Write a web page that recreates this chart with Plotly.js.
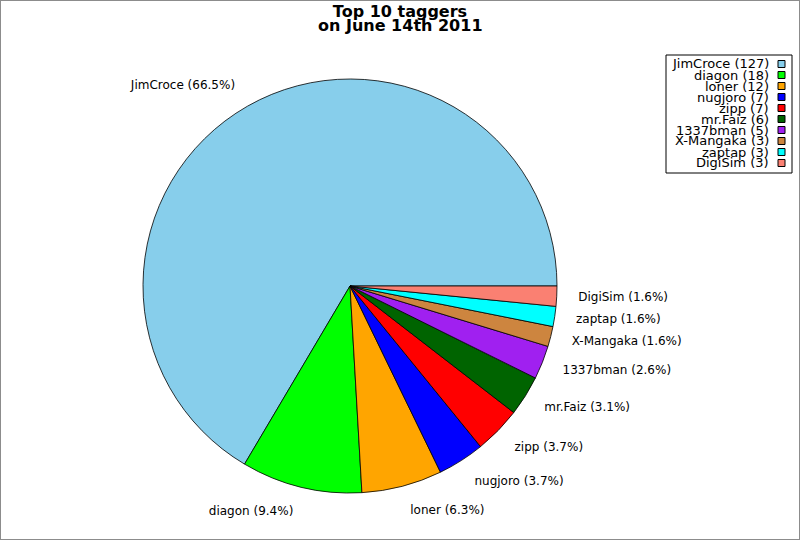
<!DOCTYPE html>
<html>
<head>
<meta charset="utf-8">
<script src="https://cdn.plot.ly/plotly-3.0.1.min.js"></script>
<style>
  html, body { margin: 0; padding: 0; background: #fff; }
  #pie { width: 798px; height: 538px; border: 1px solid #8c8c8c; }
</style>
</head>
<body>
<div id="pie"></div>
<script>
// top 10 taggers, in the order they are drawn
let taggers = ['JimCroce', 'diagon', 'loner', 'nugjoro', 'zipp', 'mr.Faiz', '1337bman', 'X-Mangaka', 'zaptap', 'DigiSim'];
let tagCounts = [127, 18, 12, 7, 7, 6, 5, 3, 3, 3];
let sliceColors = ['#87ceeb', '#00ff00', '#ffa500', '#0000ff', '#ff0000', '#006400', '#a020f0', '#cd853f', '#00ffff', '#fa8072'];

let W = 798, H = 538;
// image pixel -> paper coords
function px(x) { return (x - 1) / W; }
function py(y) { return 1 - (y - 1) / H; }

let total = tagCounts.reduce(function (a, b) { return a + b; }, 0);
// plotly puts the end of the first slice at `rotation` when going counterclockwise,
// so shift it back so that the first slice starts at 3 o'clock
let startRotation = 90 - 360 * tagCounts[0] / total;

let cx = 350, cy = 286, R = 207, labelGap = 18;

let pie = {
  type: 'pie',
  labels: taggers,
  values: tagCounts,
  sort: false,
  direction: 'counterclockwise',
  rotation: startRotation,
  marker: {
    colors: sliceColors,
    line: { color: '#000', width: 0.8 }
  },
  textinfo: 'none',
  hoverinfo: 'label+value+percent',
  domain: { x: [px(cx - R), px(cx + R)], y: [py(cy + R), py(cy - R)] }
};

// same slices, invisible and a bit wider, only to carry the labels further out
let pieLabels = {
  type: 'pie',
  labels: taggers,
  values: tagCounts,
  sort: false,
  direction: 'counterclockwise',
  rotation: startRotation,
  marker: {
    colors: taggers.map(function () { return 'rgba(0,0,0,0)'; }),
    line: { width: 0 }
  },
  texttemplate: '%{label} (%{percent:.1%})',
  textposition: 'outside',
  outsidetextfont: { family: 'DejaVu Sans', size: 12, color: '#000' },
  hoverinfo: 'skip',
  domain: { x: [px(cx - R - labelGap), px(cx + R + labelGap)], y: [py(cy + R + labelGap), py(cy - R - labelGap)] }
};

// hand made legend: right aligned names, swatch on the right, tight rows
let legendTop = 64, legendStep = 11;
let annotations = taggers.map(function (t, i) {
  return {
    xref: 'paper', yref: 'paper',
    x: px(771), y: py(legendTop + i * legendStep),
    xanchor: 'right', yanchor: 'middle',
    text: t + ' (' + tagCounts[i] + ')',
    showarrow: false,
    font: { family: 'DejaVu Sans', size: 13, color: '#000' }
  };
});
annotations.push({
  xref: 'paper', yref: 'paper',
  x: 0.5, y: py(25),
  xanchor: 'center', yanchor: 'middle',
  text: '<b>on June 14th 2011</b>',
  showarrow: false,
  font: { family: 'DejaVu Sans', size: 16, color: '#000' }
});

let shapes = [{
  type: 'rect', xref: 'paper', yref: 'paper',
  x0: px(666), x1: px(792), y0: py(173), y1: py(55),
  line: { color: '#000', width: 1 }, fillcolor: '#fff', layer: 'below'
}];
sliceColors.forEach(function (c, i) {
  let yc = legendTop + i * legendStep;
  shapes.push({
    type: 'rect', xref: 'paper', yref: 'paper',
    x0: px(778), x1: px(785), y0: py(yc + 3.5), y1: py(yc - 3.5),
    line: { color: '#000', width: 1 }, fillcolor: c
  });
});

let layout = {
  width: W,
  height: H,
  margin: { l: 0, r: 0, t: 0, b: 0 },
  paper_bgcolor: '#fff',
  font: { family: 'DejaVu Sans', size: 12, color: '#000' },
  title: {
    text: '<b>Top 10 taggers</b>',
    font: { family: 'DejaVu Sans', size: 16, color: '#000' },
    x: 0.5,
    xanchor: 'center',
    yref: 'container',
    y: py(11),
    yanchor: 'middle'
  },
  showlegend: false,
  annotations: annotations,
  shapes: shapes
};

Plotly.newPlot('pie', [pie, pieLabels], layout, { displayModeBar: false });
</script>
</body>
</html>
